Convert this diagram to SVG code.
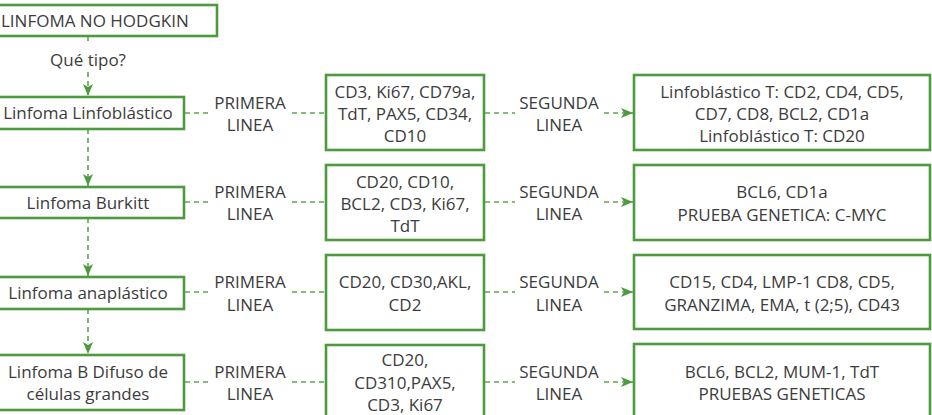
<svg xmlns="http://www.w3.org/2000/svg" width="932" height="415" viewBox="0 0 932 415">
<style>
.box{fill:#fff;stroke:#4e9a3e;stroke-width:2.6}
.t{font-family:"Open Sans","Noto Sans",sans-serif;font-size:17px;fill:#3c3c3c;text-anchor:middle}
.c{fill:none;stroke:#5ea64c;stroke-width:1.6;stroke-dasharray:5 4}
</style>
<defs>
<marker id="ah" markerWidth="12" markerHeight="10" refX="12" refY="5" orient="auto" markerUnits="userSpaceOnUse">
<path d="M0,0 L12,5 L0,10 L3,5 Z" fill="#4e9a3e"/>
</marker>
</defs>
<rect width="932" height="415" fill="#fff"/>
<g id="connectors">
<line class="c" x1="88" y1="36" x2="88" y2="43"/>
<line class="c" x1="88" y1="72" x2="88" y2="96" marker-end="url(#ah)"/>
<line class="c" x1="88" y1="129" x2="88" y2="186" marker-end="url(#ah)"/>
<line class="c" x1="88" y1="218" x2="88" y2="276" marker-end="url(#ah)"/>
<line class="c" x1="88" y1="309" x2="88" y2="354" marker-end="url(#ah)"/>
<line class="c" x1="185" y1="113" x2="211" y2="113"/>
<line class="c" x1="292" y1="113" x2="326" y2="113"/>
<line class="c" x1="485" y1="113" x2="515" y2="113"/>
<line class="c" x1="604" y1="113" x2="633" y2="113" marker-end="url(#ah)"/>
<line class="c" x1="185" y1="202" x2="211" y2="202"/>
<line class="c" x1="292" y1="202" x2="326" y2="202"/>
<line class="c" x1="485" y1="202" x2="515" y2="202"/>
<line class="c" x1="604" y1="202" x2="633" y2="202" marker-end="url(#ah)"/>
<line class="c" x1="185" y1="292" x2="211" y2="292"/>
<line class="c" x1="292" y1="292" x2="326" y2="292"/>
<line class="c" x1="485" y1="292" x2="515" y2="292"/>
<line class="c" x1="604" y1="292" x2="633" y2="292" marker-end="url(#ah)"/>
<line class="c" x1="185" y1="382" x2="211" y2="382"/>
<line class="c" x1="292" y1="382" x2="326" y2="382"/>
<line class="c" x1="485" y1="382" x2="515" y2="382"/>
<line class="c" x1="604" y1="382" x2="633" y2="382" marker-end="url(#ah)"/>
<text class="t" x="88" y="66">Qué tipo?</text>
<text class="t" x="250" y="109">PRIMERA</text><text class="t" x="250" y="131">LINEA</text>
<text class="t" x="559" y="109">SEGUNDA</text><text class="t" x="559" y="131">LINEA</text>
<text class="t" x="250" y="198">PRIMERA</text><text class="t" x="250" y="220">LINEA</text>
<text class="t" x="559" y="198">SEGUNDA</text><text class="t" x="559" y="220">LINEA</text>
<text class="t" x="250" y="288">PRIMERA</text><text class="t" x="250" y="311">LINEA</text>
<text class="t" x="559" y="288">SEGUNDA</text><text class="t" x="559" y="311">LINEA</text>
<text class="t" x="250" y="378">PRIMERA</text><text class="t" x="250" y="400">LINEA</text>
<text class="t" x="559" y="378">SEGUNDA</text><text class="t" x="559" y="400">LINEA</text>
</g>
<g id="n-root">
<rect class="box" x="-20" y="5" width="237" height="31"/>
<text class="t" x="1" y="27" style="text-anchor:start">LINFOMA NO HODGKIN</text>
</g>
<g id="n-linfoblastico">
<rect class="box" x="-2" y="97" width="186" height="32"/>
<text class="t" x="88" y="119">Linfoma Linfoblástico</text>
</g>
<g id="n-burkitt">
<rect class="box" x="-2" y="187" width="186" height="31"/>
<text class="t" x="88" y="209">Linfoma Burkitt</text>
</g>
<g id="n-anaplastico">
<rect class="box" x="-2" y="277" width="186" height="32"/>
<text class="t" x="88" y="299">Linfoma anaplástico</text>
</g>
<g id="n-difuso">
<rect class="box" x="-2" y="355" width="186" height="55"/>
<text class="t" x="88" y="378">Linfoma B Difuso de</text>
<text class="t" x="88" y="400">células grandes</text>
</g>
<g id="n-p1">
<rect class="box" x="326" y="75" width="158" height="75"/>
<text class="t" x="405" y="98">CD3, Ki67, CD79a,</text>
<text class="t" x="405" y="120">TdT, PAX5, CD34,</text>
<text class="t" x="405" y="142">CD10</text>
</g>
<g id="n-p2">
<rect class="box" x="326" y="165" width="158" height="75"/>
<text class="t" x="405" y="188">CD20, CD10,</text>
<text class="t" x="405" y="210">BCL2, CD3, Ki67,</text>
<text class="t" x="405" y="232">TdT</text>
</g>
<g id="n-p3">
<rect class="box" x="326" y="255" width="158" height="75"/>
<text class="t" x="405" y="288">CD20, CD30,AKL,</text>
<text class="t" x="405" y="311">CD2</text>
</g>
<g id="n-p4">
<rect class="box" x="326" y="345" width="158" height="75"/>
<text class="t" x="405" y="366">CD20,</text>
<text class="t" x="405" y="389">CD310,PAX5,</text>
<text class="t" x="405" y="411">CD3, Ki67</text>
</g>
<g id="n-s1">
<rect class="box" x="634" y="75" width="296" height="75"/>
<text class="t" x="782" y="98">Linfoblástico T: CD2, CD4, CD5,</text>
<text class="t" x="782" y="120">CD7, CD8, BCL2, CD1a</text>
<text class="t" x="782" y="142">Linfoblástico T: CD20</text>
</g>
<g id="n-s2">
<rect class="box" x="634" y="165" width="296" height="75"/>
<text class="t" x="782" y="198">BCL6, CD1a</text>
<text class="t" x="782" y="221">PRUEBA GENETICA: C-MYC</text>
</g>
<g id="n-s3">
<rect class="box" x="634" y="255" width="296" height="74"/>
<text class="t" x="782" y="288">CD15, CD4, LMP-1 CD8, CD5,</text>
<text class="t" x="782" y="311">GRANZIMA, EMA, t (2;5), CD43</text>
</g>
<g id="n-s4">
<rect class="box" x="634" y="344" width="296" height="75"/>
<text class="t" x="782" y="378">BCL6, BCL2, MUM-1, TdT</text>
<text class="t" x="782" y="400">PRUEBAS GENETICAS</text>
</g>
</svg>
